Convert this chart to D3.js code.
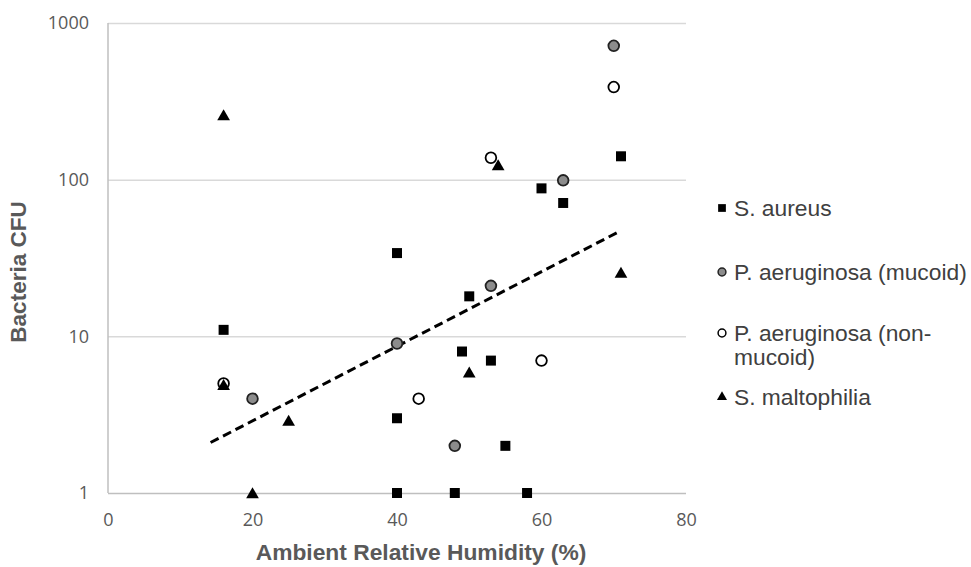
<!DOCTYPE html>
<html>
<head>
<meta charset="utf-8">
<script src="https://cdn.jsdelivr.net/npm/d3@7"></script>
<style>
  body { margin: 0; background: #fff; }
  svg { display: block; }
  .tick text { font-family: "Open Sans", sans-serif; font-size: 18px; fill: #595959; }
</style>
</head>
<body>
<div id="chartDiv"></div>
<script>
// series data: [humidity %, CFU]
let sAureus = [[16, 11], [40, 34], [40, 3], [40, 1], [48, 1], [58, 1], [49, 8], [53, 7],
               [55, 2], [50, 18], [60, 88], [63, 71], [71, 141]];
let pAerMucoid = [[70, 715], [63, 99], [53, 21], [40, 9], [20, 4], [48, 2]];
let pAerNonMucoid = [[70, 390], [53, 138], [60, 7], [43, 4], [16, 5]];
let sMaltophilia = [[16, 258], [54, 124], [71, 25.5], [50, 5.9], [25, 2.9], [20, 1], [16, 4.9]];
// exponential trend line, end points
let trendLine = [[14.2, 2.1], [70.9, 47]];

let seriesNames = ["S. aureus", "P. aeruginosa (mucoid)", "P. aeruginosa (non-mucoid)", "S. maltophilia"];
let xTicks = [0, 20, 40, 60, 80];
let yTicks = [1, 10, 100, 1000];

let svgWidth = 971, svgHeight = 567;
let plotLeft = 108, plotRight = 686, plotTop = 23, plotBottom = 493;

let svg = d3.select("#chartDiv").append("svg")
    .attr("width", svgWidth)
    .attr("height", svgHeight);

let xScale = d3.scaleLinear().domain([0, 80]).range([plotLeft, plotRight]);
let yScale = d3.scaleLog().domain([1, 1000]).range([plotBottom, plotTop]);

// horizontal gridlines
let yAxis = d3.axisLeft(yScale)
    .tickValues(yTicks)
    .tickFormat(d3.format("d"))
    .tickSize(-(plotRight - plotLeft))
    .tickPadding(19);

let yAxisG = svg.append("g")
    .attr("transform", "translate(" + plotLeft + ",0)")
    .call(yAxis);
yAxisG.select(".domain").remove();
yAxisG.selectAll(".tick line")
    .attr("stroke", function(d){ return d == 1 ? "#bfbfbf" : "#d9d9d9"; })
    .attr("stroke-width", 1.5);

let xAxis = d3.axisBottom(xScale)
    .tickValues(xTicks)
    .tickSize(0)
    .tickPadding(20);

let xAxisG = svg.append("g")
    .attr("transform", "translate(0," + plotBottom + ")")
    .call(xAxis);
xAxisG.select(".domain").remove();

// left axis line
svg.append("line")
    .attr("x1", plotLeft).attr("x2", plotLeft)
    .attr("y1", yScale(1000)).attr("y2", yScale(1))
    .attr("stroke", "#bfbfbf")
    .attr("stroke-width", 1.5);

// trend line
let trend = d3.line()
    .x(function(d){ return xScale(d[0]); })
    .y(function(d){ return yScale(d[1]); });

svg.append("path")
    .datum(trendLine)
    .attr("d", trend)
    .attr("fill", "none")
    .attr("stroke", "#000")
    .attr("stroke-width", 3)
    .attr("stroke-dasharray", "9,5");

let styles = [
    {shape: d3.symbolSquare, size: 100, fill: "#000", stroke: "none", legendSize: 60},
    {shape: d3.symbolCircle, size: 90, fill: "#8c8c8c", stroke: "#222", legendSize: 48},
    {shape: d3.symbolCircle, size: 90, fill: "#fff", stroke: "#000", legendSize: 48},
    {shape: d3.symbolTriangle, size: 70, fill: "#000", stroke: "none", legendSize: 44}
];
let allSeries = [sAureus, pAerMucoid, pAerNonMucoid, sMaltophilia];

allSeries.forEach(function(series, i){
    let st = styles[i];
    svg.append("g").selectAll("path")
        .data(series)
        .enter().append("path")
        .attr("transform", function(d){
            let dy = st.shape === d3.symbolTriangle ? 1.5 : 0;
            return "translate(" + xScale(d[0]) + "," + (yScale(d[1]) + dy) + ")";
        })
        .attr("d", d3.symbol().type(st.shape).size(st.size))
        .attr("fill", st.fill)
        .attr("stroke", st.stroke)
        .attr("stroke-width", 1.8);
});

// legend
let legendY = [208, 272, 333, 397];
let legendG = svg.append("g");
seriesNames.forEach(function(name, i){
    let st = styles[i];
    legendG.append("path")
        .attr("transform", "translate(722," + legendY[i] + ")")
        .attr("d", d3.symbol().type(st.shape).size(st.legendSize))
        .attr("fill", st.fill)
        .attr("stroke", st.stroke)
        .attr("stroke-width", 1.5);
    let txt = legendG.append("text")
        .attr("x", 734)
        .attr("y", legendY[i])
        .attr("dy", "0.36em")
        .attr("font-family", "'Liberation Sans', Arial, sans-serif")
        .attr("font-size", 22.8)
        .attr("fill", "#404040");
    if (name.indexOf("non-") >= 0) {
        txt.append("tspan").attr("x", 734).text("P. aeruginosa (non-");
        txt.append("tspan").attr("x", 734).attr("dy", 24).text("mucoid)");
    } else {
        txt.text(name);
    }
});

// axis titles
svg.append("text")
    .attr("x", 421)
    .attr("y", 560)
    .attr("text-anchor", "middle")
    .attr("font-family", "'Liberation Sans', Arial, sans-serif")
    .attr("font-weight", "bold")
    .attr("font-size", 22.8)
    .attr("fill", "#595959")
    .text("Ambient Relative Humidity (%)");

svg.append("text")
    .attr("transform", "translate(26,272) rotate(-90)")
    .attr("text-anchor", "middle")
    .attr("font-family", "'Liberation Sans', Arial, sans-serif")
    .attr("font-weight", "bold")
    .attr("font-size", 22.5)
    .attr("fill", "#595959")
    .text("Bacteria CFU");
</script>
</body>
</html>
